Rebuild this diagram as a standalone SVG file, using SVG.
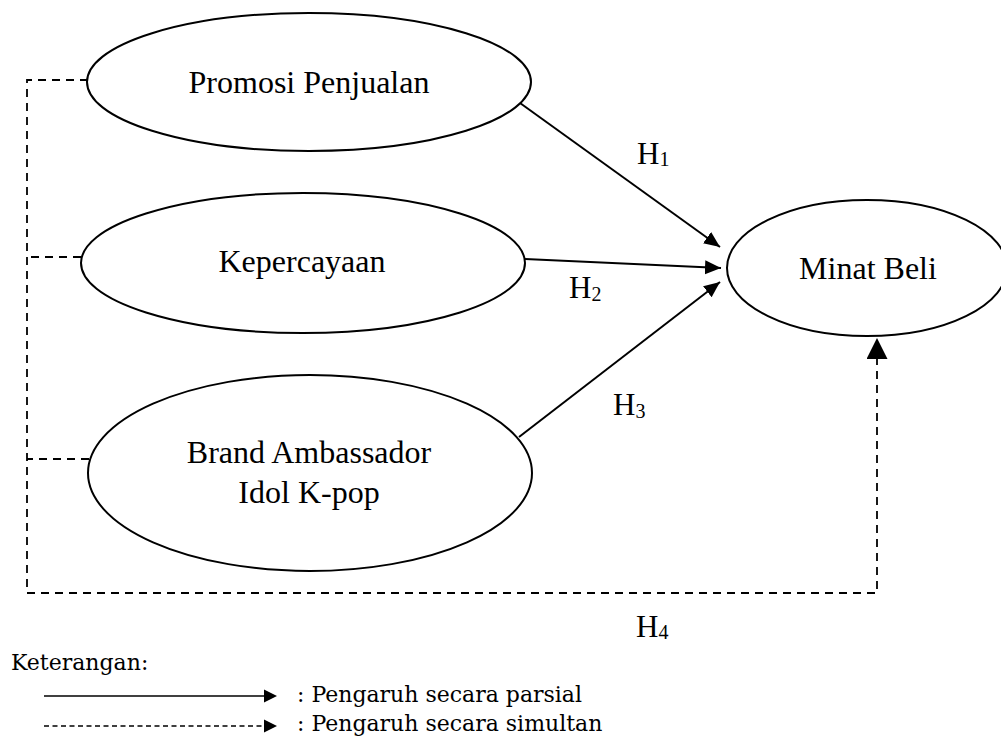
<svg xmlns="http://www.w3.org/2000/svg" width="1001" height="738" viewBox="0 0 1001 738">
<style>
.node{fill:#fff;stroke:#000;stroke-width:2}
.lbl{font-family:"Liberation Serif","Times New Roman",serif;font-size:32px;fill:#000;text-anchor:middle}
.h{font-family:"Liberation Serif","Times New Roman",serif;font-size:31px;fill:#000}
.sub{font-size:20px}
.solid{fill:none;stroke:#000;stroke-width:2}
.dash{fill:none;stroke:#000;stroke-width:1.8;stroke-dasharray:8 6}
.leg{font-family:"DejaVu Serif","Liberation Serif",serif;font-size:22px;fill:#000}
</style>
<defs>
<marker id="ah" markerUnits="userSpaceOnUse" markerWidth="17" markerHeight="15" refX="16" refY="7" orient="auto">
<path d="M0,0 L16,7 L0,14 z" fill="#000"/>
</marker>
<marker id="ahBig" markerUnits="userSpaceOnUse" markerWidth="22" markerHeight="22" refX="21" refY="10.5" orient="auto">
<path d="M0,0 L21,10.5 L0,21 z" fill="#000"/>
</marker>
</defs>
<g id="connectors">
<line class="solid" x1="520" y1="103" x2="720" y2="247" marker-end="url(#ah)"/>
<line class="solid" x1="525" y1="259" x2="721" y2="268" marker-end="url(#ah)"/>
<line class="solid" x1="519" y1="437" x2="720" y2="282" marker-end="url(#ah)"/>
<path class="dash" d="M88,80 H27 V593 H877 V338" marker-end="url(#ahBig)"/>
<path class="dash" d="M81,257 H27"/>
<path class="dash" d="M89,459 H27"/>
<text class="h" x="637" y="164">H<tspan class="sub" dy="2">1</tspan></text>
<text class="h" x="569" y="298">H<tspan class="sub" dy="3">2</tspan></text>
<text class="h" x="613" y="415">H<tspan class="sub" dy="3">3</tspan></text>
<text class="h" x="636" y="637">H<tspan class="sub" dy="2">4</tspan></text>
</g>
<g id="promosi">
<ellipse class="node" cx="309" cy="82" rx="222" ry="69"/>
<text class="lbl" x="309" y="93">Promosi Penjualan</text>
</g>
<g id="kepercayaan">
<ellipse class="node" cx="303" cy="263" rx="222" ry="70"/>
<text class="lbl" x="302" y="272">Kepercayaan</text>
</g>
<g id="brand">
<ellipse class="node" cx="310" cy="473" rx="222" ry="98"/>
<text class="lbl" x="309" y="463">Brand Ambassador</text>
<text class="lbl" x="309" y="503">Idol K-pop</text>
</g>
<g id="minat">
<ellipse class="node" cx="867" cy="268" rx="140" ry="68"/>
<text class="lbl" x="868" y="279">Minat Beli</text>
</g>
<g id="legend">
<text class="leg" x="11" y="670">Keterangan:</text>
<line x1="44" y1="696" x2="265" y2="696" stroke="#000" stroke-width="1.5"/>
<polygon points="264,689.5 277,696 264,702.5" fill="#000"/>
<text class="leg" x="297" y="702">: Pengaruh secara parsial</text>
<line x1="44" y1="726" x2="265" y2="726" stroke="#000" stroke-width="1.5" stroke-dasharray="5 3.5"/>
<polygon points="264,719.5 277,726 264,732.5" fill="#000"/>
<text class="leg" x="297" y="731">: Pengaruh secara simultan</text>
</g>
</svg>
